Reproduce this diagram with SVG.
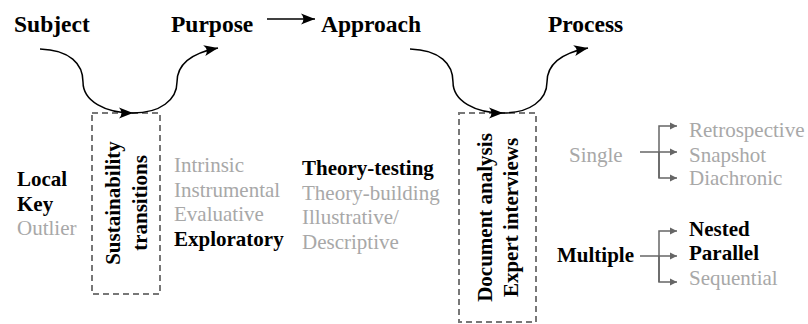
<svg xmlns="http://www.w3.org/2000/svg" width="808" height="324" viewBox="0 0 808 324">
  <style>
    text { font-family: "Liberation Serif", "Times New Roman", serif; }
    .head { font-size: 23.5px; font-weight: bold; fill: #000; }
    .item { font-size: 21px; fill: #a8a8a8; }
    .em { font-weight: bold; fill: #000; }
    .box { fill: none; stroke: #777; stroke-width: 2; stroke-dasharray: 6 4; }
    .box-text { font-size: 21px; font-weight: bold; fill: #000; text-anchor: middle; }
    .flow { fill: none; stroke: #000; stroke-width: 1.5; }
    .branch { fill: none; stroke: #666; stroke-width: 1.5; }
  </style>
  <defs>
    <marker id="stealth" markerUnits="userSpaceOnUse" markerWidth="20" markerHeight="14" viewBox="-15 -7 16 14" refX="0" refY="0" orient="auto">
      <path d="M0,0 L-14,-5.5 Q-9,0 -14,5.5 Z" fill="#000"/>
    </marker>
    <marker id="tri" markerUnits="userSpaceOnUse" markerWidth="10" markerHeight="10" viewBox="-8 -5 9 10" refX="0" refY="0" orient="auto">
      <path d="M0,0 L-7,-3.5 L-7,3.5 Z" fill="#666"/>
    </marker>
  </defs>

  <!-- Stage headings -->
  <g id="subject"><text class="head" x="14" y="32">Subject</text></g>
  <g id="purpose"><text class="head" x="171" y="32">Purpose</text></g>
  <g id="approach"><text class="head" x="321" y="32">Approach</text></g>
  <g id="process"><text class="head" x="548" y="32">Process</text></g>

  <!-- Subject options -->
  <g id="subject-options">
    <text class="item em" x="17" y="186">Local</text>
    <text class="item em" x="17" y="211">Key</text>
    <text class="item" x="17" y="235">Outlier</text>
  </g>

  <!-- Sustainability transitions box -->
  <g id="focus-box">
    <rect class="box" x="92" y="113" width="68" height="181"/>
    <text class="box-text" transform="translate(120,203) rotate(-90)">Sustainability</text>
    <text class="box-text" transform="translate(147,203) rotate(-90)">transitions</text>
  </g>

  <!-- Purpose options -->
  <g id="purpose-options">
    <text class="item" x="174" y="172">Intrinsic</text>
    <text class="item" x="174" y="197">Instrumental</text>
    <text class="item" x="174" y="221">Evaluative</text>
    <text class="item em" x="174" y="246">Exploratory</text>
  </g>

  <!-- Approach options -->
  <g id="approach-options">
    <text class="item em" x="302" y="175">Theory-testing</text>
    <text class="item" x="302" y="200">Theory-building</text>
    <text class="item" x="302" y="224">Illustrative/</text>
    <text class="item" x="302" y="249">Descriptive</text>
  </g>

  <!-- Methods box -->
  <g id="methods-box">
    <rect class="box" x="459" y="113" width="77" height="209"/>
    <text class="box-text" transform="translate(492,217.5) rotate(-90)">Document analysis</text>
    <text class="box-text" transform="translate(518,217.5) rotate(-90)">Expert interviews</text>
  </g>

  <!-- Process options -->
  <g id="single">
    <text class="item" x="569" y="162">Single</text>
  </g>
  <g id="single-options">
    <text class="item" x="689" y="137">Retrospective</text>
    <text class="item" x="689" y="161.5">Snapshot</text>
    <text class="item" x="689" y="185">Diachronic</text>
  </g>
  <g id="multiple">
    <text class="item em" x="557" y="262">Multiple</text>
  </g>
  <g id="multiple-options">
    <text class="item em" x="689" y="236">Nested</text>
    <text class="item em" x="689" y="260">Parallel</text>
    <text class="item" x="689" y="285">Sequential</text>
  </g>

  <!-- Connectors: stage flow (black) and case-type branches (grey) -->
  <g id="connectors">
    <path class="flow" d="M267,19 L315,19" marker-end="url(#stealth)"/>
    <path class="flow" d="M40,49 C70,50 83,64 83,82 C83,101 105,113 133,113" marker-end="url(#stealth)"/>
    <path class="flow" d="M133,113 C160,113 177,100 177,82 C177,64 192,53 218,48" marker-end="url(#stealth)"/>
    <path class="flow" d="M410,49 C440,50 453,64 453,82 C453,101 475,113 503,113" marker-end="url(#stealth)"/>
    <path class="flow" d="M503,113 C530,113 547,100 547,82 C547,64 562,53 588,48" marker-end="url(#stealth)"/>

    <path class="branch" d="M640,152 L677,152" marker-end="url(#tri)"/>
    <path class="branch" d="M659,178 L659,126 L677,126" marker-end="url(#tri)"/>
    <path class="branch" d="M659,152 L659,178 L677,178" marker-end="url(#tri)"/>

    <path class="branch" d="M640,256 L677,256" marker-end="url(#tri)"/>
    <path class="branch" d="M659,282 L659,231 L677,231" marker-end="url(#tri)"/>
    <path class="branch" d="M659,256 L659,282 L677,282" marker-end="url(#tri)"/>
  </g>
</svg>
